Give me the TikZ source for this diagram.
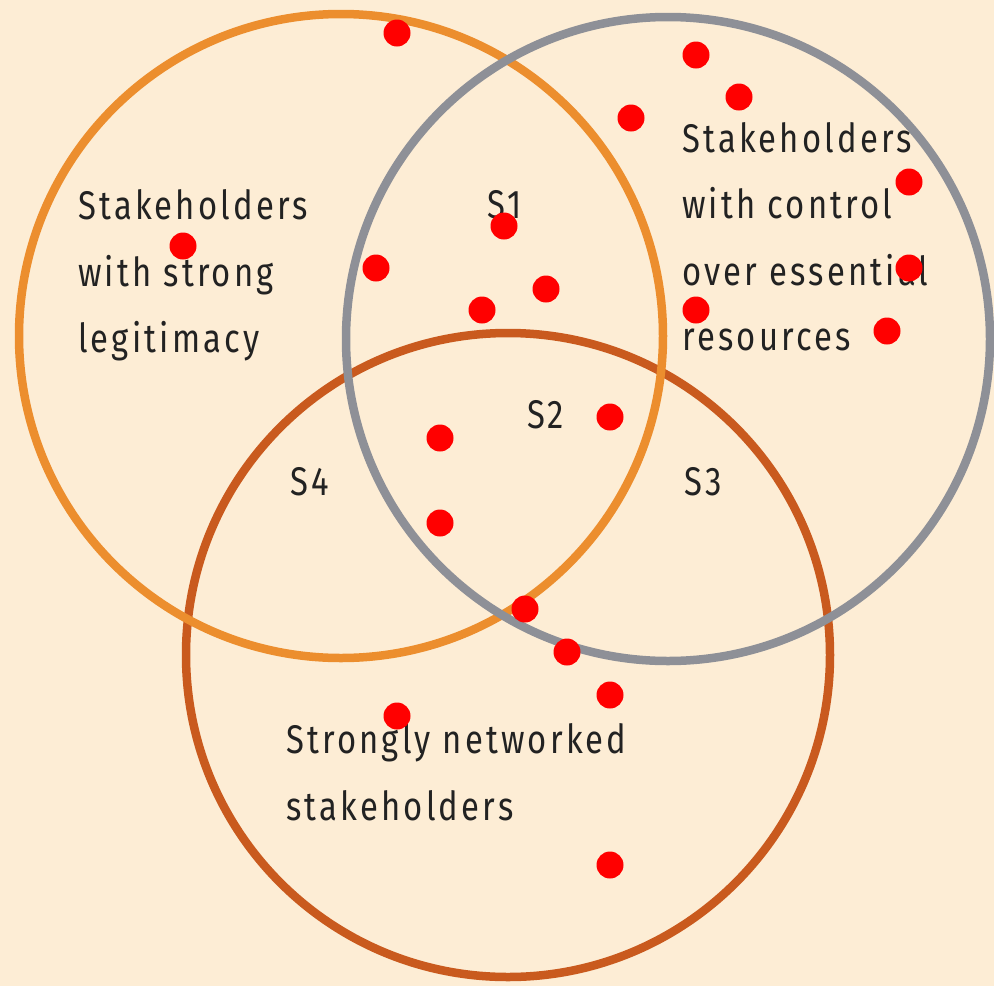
\documentclass[tikz,border=0pt]{standalone}
\usepackage{fontspec}
\setmainfont{Fira Sans}[FakeStretch=0.82,LetterSpace=8]
\definecolor{bgc}{HTML}{FDEDD5}
\definecolor{orangec}{HTML}{EC8E2E}
\definecolor{grayc}{HTML}{8E9097}
\definecolor{brownc}{HTML}{C95A1E}
\definecolor{dotc}{HTML}{FF0000}
\definecolor{textc}{HTML}{222222}
\begin{document}
\begin{tikzpicture}[x=1pt,y=-1pt,
  ring/.style={circle,draw=#1,line width=8.5pt,minimum size=644pt,inner sep=0pt},
  dot/.style={circle,fill=dotc,minimum size=27pt,inner sep=0pt},
  lbl/.style={anchor=base west,inner sep=0pt,text=textc,font=\fontsize{40}{48}\selectfont}]
\fill[bgc] (0,0) rectangle (994,986);
\useasboundingbox (0,0) rectangle (994,986);
% circles
\node[ring=brownc] (net) at (508,655) {};
\node[ring=orangec] (leg) at (341,336) {};
\node[ring=grayc] (res) at (668,339) {};
% texts
\node[lbl] (l1) at (78,219) {Stakeholders};
\node[lbl] (l2) at (78,286) {with strong};
\node[lbl] (l3) at (78,352) {legitimacy};
\node[lbl] (r1) at (682,152) {Stakeholders};
\node[lbl] (r2) at (682,218) {with control};
\node[lbl] (r3) at (682,285) {over essential};
\node[lbl] (r4) at (682,350) {resources};
\node[lbl] (b1) at (286,753) {Strongly networked};
\node[lbl] (b2) at (286,820) {stakeholders};
\node[lbl] (s1) at (487,218) {S1};
\node[lbl] (s2) at (527,428) {S2};
\node[lbl] (s3) at (684,495) {S3};
\node[lbl] (s4) at (290,495) {S4};
% dots
\node[dot] (d1) at (397,33) {};
\node[dot] (d2) at (696,55) {};
\node[dot] (d3) at (739,97) {};
\node[dot] (d4) at (631,118) {};
\node[dot] (d5) at (909,182) {};
\node[dot] (d6) at (183,246) {};
\node[dot] (d7) at (504,226) {};
\node[dot] (d8) at (376,268) {};
\node[dot] (d9) at (909,268) {};
\node[dot] (d10) at (546,289) {};
\node[dot] (d11) at (482,310) {};
\node[dot] (d12) at (696,310) {};
\node[dot] (d13) at (887,331) {};
\node[dot] (d14) at (610,417) {};
\node[dot] (d15) at (440,438) {};
\node[dot] (d16) at (440,523) {};
\node[dot] (d17) at (525,609) {};
\node[dot] (d18) at (567,652) {};
\node[dot] (d19) at (610,695) {};
\node[dot] (d20) at (397,716) {};
\node[dot] (d21) at (610,865) {};
\end{tikzpicture}
\end{document}
